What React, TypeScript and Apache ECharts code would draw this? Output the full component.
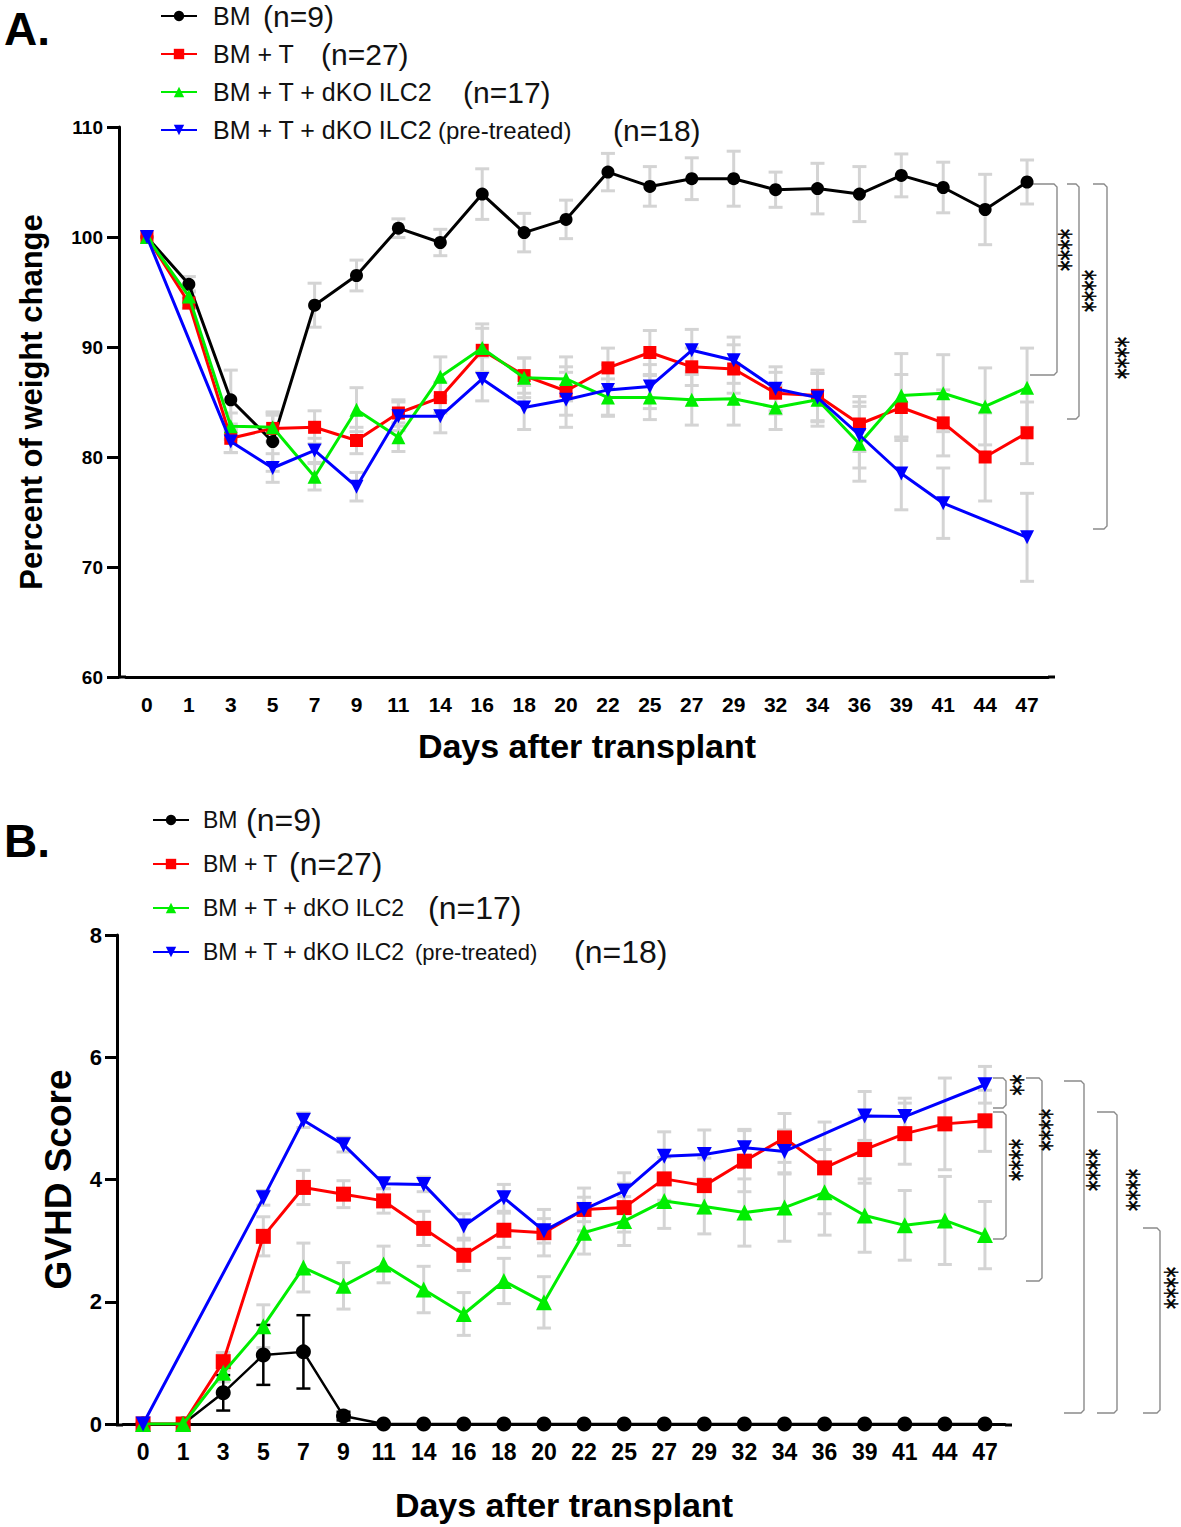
import React, { useEffect, useRef } from "react";
import * as echarts from "echarts";

const FONT = '"Liberation Sans", Arial, Helvetica, sans-serif';
const NARROW = '"Liberation Sans Narrow", "Liberation Sans", Arial, sans-serif';
const STARFONT = '"DejaVu Sans", sans-serif';

const days = ["0", "1", "3", "5", "7", "9", "11", "14", "16", "18", "20", "22", "25", "27", "29", "32", "34", "36", "39", "41", "44", "47"];

const groupNames = ["BM", "BM + T", "BM + T + dKO ILC2", "BM + T + dKO ILC2 (pre-treated)"];
const groupN = ["(n=9)", "(n=27)", "(n=17)", "(n=18)"];
const groupColors = ["#000000", "#ff0000", "#00ee00", "#0000ff"];

// A. Percent of weight change (mean, SEM)
const weightBM = [100, 95.7, 85.2, 81.4, 93.8, 96.5, 100.8, 99.5, 103.9, 100.4, 101.6, 105.9, 104.6, 105.3, 105.3, 104.3, 104.4, 103.9, 105.6, 104.5, 102.5, 105.0];
const weightBMsem = [0, 0.7, 2.7, 2.7, 2.0, 1.4, 0.85, 1.2, 2.3, 1.75, 1.75, 1.7, 1.8, 1.9, 2.5, 1.6, 2.3, 2.5, 1.95, 2.3, 3.2, 2.0];
const weightT = [100, 94.0, 81.7, 82.6, 82.7, 81.5, 84.0, 85.4, 89.7, 87.4, 86.0, 88.1, 89.5, 88.2, 88.0, 85.8, 85.6, 83.0, 84.5, 83.1, 80.0, 82.2];
const weightTsem = [0, 0.5, 1.3, 1.2, 1.5, 1.2, 1.2, 1.4, 2.0, 1.6, 2.2, 1.8, 2.0, 1.7, 2.2, 1.9, 2.3, 2.5, 3.0, 3.0, 4.0, 2.8];
const weightD = [100, 94.6, 82.8, 82.7, 78.2, 84.3, 81.8, 87.3, 89.9, 87.2, 87.1, 85.4, 85.4, 85.2, 85.3, 84.5, 85.2, 81.2, 85.6, 85.8, 84.6, 86.3];
const weightDsem = [0, 0.5, 1.2, 1.3, 1.2, 2.0, 1.3, 1.8, 2.2, 1.8, 2.0, 1.7, 2.0, 2.3, 2.4, 2.0, 2.4, 3.4, 3.8, 3.5, 3.5, 3.6];
const weightP = [100, null, 81.4, 79.0, 80.6, 77.3, 83.7, 83.7, 87.1, 84.5, 85.2, 86.1, 86.4, 89.7, 88.8, 86.2, 85.4, 82.0, 78.5, 75.8, null, 72.7];
const weightPsem = [0, null, 1.0, 1.3, 1.1, 1.3, 1.3, 1.5, 2.0, 2.0, 2.5, 2.3, 2.0, 1.9, 2.1, 2.0, 2.2, 3.0, 3.3, 3.2, null, 4.0];

// B. GVHD score (mean, SEM)
const gvhdBM = [0, 0, 0.51, 1.13, 1.18, 0.13, 0, 0, 0, 0, 0, 0, 0, 0, 0, 0, 0, 0, 0, 0, 0, 0];
const gvhdBMsem = [0, 0, 0.29, 0.49, 0.6, 0.07, 0, 0, 0, 0, 0, 0, 0, 0, 0, 0, 0, 0, 0, 0, 0, 0];
const gvhdT = [0, 0, 1.02, 3.07, 3.87, 3.76, 3.65, 3.20, 2.76, 3.17, 3.13, 3.51, 3.54, 4.01, 3.90, 4.30, 4.68, 4.19, 4.49, 4.75, 4.91, 4.96];
const gvhdTsem = [0, 0, 0.15, 0.32, 0.28, 0.22, 0.2, 0.28, 0.25, 0.28, 0.38, 0.35, 0.4, 0.35, 0.45, 0.5, 0.4, 0.75, 0.55, 0.5, 0.75, 0.5];
const gvhdD = [0, 0, 0.84, 1.60, 2.56, 2.26, 2.61, 2.20, 1.80, 2.34, 1.99, 3.13, 3.32, 3.65, 3.56, 3.46, 3.54, 3.79, 3.41, 3.25, 3.33, 3.09];
const gvhdDsem = [0, 0, 0.15, 0.35, 0.4, 0.38, 0.3, 0.38, 0.35, 0.37, 0.42, 0.35, 0.4, 0.45, 0.45, 0.55, 0.55, 0.7, 0.6, 0.57, 0.72, 0.55];
const gvhdP = [0, null, null, 3.70, 4.97, 4.57, 3.93, 3.92, 3.24, 3.70, 3.16, 3.51, 3.81, 4.38, 4.41, 4.52, 4.46, null, 5.04, 5.03, null, 5.55];
const gvhdPsem = [0, null, null, 0.12, 0.12, 0.12, 0.08, 0.12, 0.2, 0.22, 0.2, 0.2, 0.3, 0.4, 0.4, 0.3, 0.35, null, 0.4, 0.3, null, 0.3];

const weightTicks = [60, 70, 80, 90, 100, 110];
const gvhdTicks = [0, 2, 4, 6, 8];

type Num = number | null;

function errorSeries(id: string, vals: Num[], sems: Num[], color: string, width: number, cap: number) {
  const data: number[][] = [];
  vals.forEach((v, i) => {
    const s = sems[i];
    if (v == null || s == null || s === 0) return;
    data.push([i, v - s, v + s]);
  });
  return {
    type: "custom",
    id,
    silent: true,
    z: 1,
    encode: { x: 0, y: [1, 2] },
    renderItem: (_p: any, api: any) => {
      const i = api.value(0);
      const lo = api.coord([i, api.value(1)]);
      const hi = api.coord([i, api.value(2)]);
      const st = { stroke: color, lineWidth: width };
      return {
        type: "group",
        children: [
          { type: "line", shape: { x1: lo[0], y1: lo[1], x2: hi[0], y2: hi[1] }, style: st },
          { type: "line", shape: { x1: lo[0] - cap, y1: lo[1], x2: lo[0] + cap, y2: lo[1] }, style: st },
          { type: "line", shape: { x1: hi[0] - cap, y1: hi[1], x2: hi[0] + cap, y2: hi[1] }, style: st },
        ],
      };
    },
    data,
  };
}

const symbols = ["circle", "rect", "triangle", "triangle"];
const rotations = [0, 0, 0, 180];

function lineSeries(idx: number, vals: Num[], sizes: number[], width: number) {
  return {
    type: "line",
    name: groupNames[idx],
    data: vals,
    connectNulls: true,
    symbol: symbols[idx],
    symbolRotate: rotations[idx],
    symbolSize: sizes[idx],
    showSymbol: true,
    z: 3 + idx,
    itemStyle: { color: groupColors[idx], opacity: 1 },
    lineStyle: { color: groupColors[idx], width },
  };
}

function bracket(x1: number, x2: number, y1: number, y2: number) {
  return {
    type: "polyline",
    shape: { points: [[x1, y1], [x2 - 3, y1], [x2, y1 + 3], [x2, y2 - 3], [x2 - 3, y2], [x1, y2]] },
    style: { stroke: "#8a8a8a", lineWidth: 1.4, fill: null },
    silent: true,
  };
}

// significance stars, written vertically, centred near (x, y)
function stars(x: number, y: number, t: string) {
  return {
    type: "text",
    x: x - 6,
    y,
    rotation: -Math.PI / 2,
    scaleX: 0.7,
    scaleY: 1,
    style: { text: t, font: `30px ${STARFONT}`, fill: "#000", align: "center", verticalAlign: "middle", stroke: "#000", lineWidth: 0.6 },
    silent: true,
  };
}

function legendOpt(top: number, left: number, gap: number, nameFont: number, nFont: number, ptFont: number, padL: number, widths: number[], ptW: number) {
  const rich: any = {
    pt: { fontSize: ptFont, fontFamily: FONT, color: "#111", width: ptW },
    n: { fontSize: nFont, fontFamily: NARROW, color: "#111" },
  };
  widths.forEach((w, i) => {
    rich["nm" + i] = { fontSize: nameFont, fontFamily: FONT, color: "#111", width: w, padding: [0, 0, 0, padL] };
  });
  return {
    orient: "vertical",
    left,
    top,
    padding: 0,
    itemGap: gap,
    itemWidth: 36,
    itemHeight: 13,
    selectedMode: false,
    data: groupNames,
    textStyle: { rich },
    formatter: (name: string) => {
      const i = groupNames.indexOf(name);
      if (i === 3) return `{nm3|BM + T + dKO ILC2 }{pt|(pre-treated)}{n|${groupN[3]}}`;
      return `{nm${i}|${name}}{n|${groupN[i]}}`;
    },
  };
}

function optionA() {
  const sizes = [13, 13, 14, 14];
  return {
    animation: false,
    backgroundColor: "#ffffff",
    textStyle: { fontFamily: FONT },
    legend: legendOpt(1, 160, 8, 25, 30, 24, 11, [50, 108, 250, 225], 175),
    grid: { left: 126, top: 127, width: 922, height: 550, containLabel: false },
    xAxis: {
      type: "category",
      data: days,
      boundaryGap: true,
      name: "Days after transplant",
      nameLocation: "middle",
      nameGap: 52,
      nameTextStyle: { fontSize: 34, fontWeight: "bold", color: "#000", fontFamily: FONT },
      axisLine: { lineStyle: { color: "#000", width: 3 } },
      axisTick: { alignWithLabel: true, length: 10, lineStyle: { color: "#000", width: 3 } },
      axisLabel: { interval: 0, margin: 17, fontSize: 21, fontWeight: "bold", color: "#000", fontFamily: FONT },
    },
    yAxis: {
      type: "value",
      min: weightTicks[0],
      max: weightTicks[weightTicks.length - 1],
      interval: 10,
      offset: 7,
      name: "Percent of weight change",
      nameLocation: "middle",
      nameGap: 72,
      nameTextStyle: { fontSize: 31, fontWeight: "bold", color: "#000", fontFamily: FONT },
      splitLine: { show: false },
      axisLine: { show: true, lineStyle: { color: "#000", width: 3 } },
      axisTick: { show: true, length: 12, lineStyle: { color: "#000", width: 3 } },
      axisLabel: { margin: 16, fontSize: 19, fontWeight: "bold", color: "#000", fontFamily: FONT },
    },
    graphic: [
      { type: "text", x: 4, y: 6, style: { text: "A.", font: `bold 46px ${FONT}`, fill: "#000" } },
      { type: "line", shape: { x1: 118, y1: 677, x2: 126, y2: 677 }, style: { stroke: "#000", lineWidth: 3 } },
      { type: "line", shape: { x1: 1048, y1: 677, x2: 1055, y2: 677 }, style: { stroke: "#000", lineWidth: 3 } },
      bracket(1030, 1057, 184, 375),
      bracket(1067, 1079, 184, 419),
      bracket(1093, 1107, 184, 529),
      stars(1066, 250, "****"),
      stars(1090, 291, "****"),
      stars(1123, 358, "****"),
    ],
    series: [
      errorSeries("eA0", weightBM, weightBMsem, "#d4d4d4", 3, 7),
      errorSeries("eA1", weightT, weightTsem, "#d4d4d4", 3, 7),
      errorSeries("eA2", weightD, weightDsem, "#d4d4d4", 3, 7),
      errorSeries("eA3", weightP, weightPsem, "#d4d4d4", 3, 7),
      lineSeries(0, weightBM, sizes, 3),
      lineSeries(1, weightT, sizes, 3),
      lineSeries(2, weightD, sizes, 3),
      lineSeries(3, weightP, sizes, 3),
    ],
  };
}

function optionB() {
  const sizes = [15, 15, 16, 15];
  return {
    animation: false,
    backgroundColor: "#ffffff",
    textStyle: { fontFamily: FONT },
    legend: legendOpt(34, 152, 12, 23, 32, 22, 9, [43, 86, 225, 212], 159),
    grid: { left: 123, top: 165, width: 882, height: 490, containLabel: false },
    xAxis: {
      type: "category",
      data: days,
      boundaryGap: true,
      name: "Days after transplant",
      nameLocation: "middle",
      nameGap: 64,
      nameTextStyle: { fontSize: 34, fontWeight: "bold", color: "#000", fontFamily: FONT },
      axisLine: { lineStyle: { color: "#000", width: 3 } },
      axisTick: { alignWithLabel: true, length: 10, lineStyle: { color: "#000", width: 3 } },
      axisLabel: { interval: 0, margin: 16, fontSize: 23, fontWeight: "bold", color: "#000", fontFamily: FONT },
    },
    yAxis: {
      type: "value",
      min: gvhdTicks[0],
      max: gvhdTicks[gvhdTicks.length - 1],
      interval: 2,
      offset: 6,
      name: "GVHD Score",
      nameLocation: "middle",
      nameGap: 40,
      nameTextStyle: { fontSize: 37, fontWeight: "bold", color: "#000", fontFamily: FONT },
      splitLine: { show: false },
      axisLine: { show: true, lineStyle: { color: "#000", width: 3 } },
      axisTick: { show: true, length: 12, lineStyle: { color: "#000", width: 3 } },
      axisLabel: { margin: 15, fontSize: 22, fontWeight: "bold", color: "#000", fontFamily: FONT },
    },
    graphic: [
      { type: "text", x: 4, y: 48, style: { text: "B.", font: `bold 46px ${FONT}`, fill: "#000" } },
      { type: "line", shape: { x1: 116, y1: 655, x2: 123, y2: 655 }, style: { stroke: "#000", lineWidth: 3 } },
      { type: "line", shape: { x1: 1005, y1: 655, x2: 1012, y2: 655 }, style: { stroke: "#000", lineWidth: 3 } },
      bracket(993, 1006, 308, 338),
      bracket(993, 1006, 342, 469),
      bracket(1026, 1042, 308, 511),
      bracket(1064, 1084, 311, 643),
      bracket(1097, 1117, 342, 643),
      bracket(1143, 1160, 458, 643),
      stars(1018, 315, "**"),
      stars(1017, 390, "****"),
      stars(1047, 360, "****"),
      stars(1094, 400, "****"),
      stars(1134, 420, "****"),
      stars(1172, 518, "****"),
    ],
    series: [
      errorSeries("eB1", gvhdT, gvhdTsem, "#d4d4d4", 3, 7),
      errorSeries("eB2", gvhdD, gvhdDsem, "#d4d4d4", 3, 7),
      errorSeries("eB3", gvhdP, gvhdPsem, "#d4d4d4", 3, 7),
      errorSeries("eB0", gvhdBM, gvhdBMsem, "#000000", 2.5, 7),
      lineSeries(0, gvhdBM, sizes, 2.5),
      lineSeries(1, gvhdT, sizes, 3),
      lineSeries(2, gvhdD, sizes, 3),
      lineSeries(3, gvhdP, sizes, 3),
    ],
  };
}

export default function App() {
  const refA = useRef<HTMLDivElement>(null);
  const refB = useRef<HTMLDivElement>(null);
  useEffect(() => {
    const a = echarts.init(refA.current!, null, { renderer: "svg" });
    const b = echarts.init(refB.current!, null, { renderer: "svg" });
    a.setOption(optionA() as any);
    b.setOption(optionB() as any);
    return () => {
      a.dispose();
      b.dispose();
    };
  }, []);
  return (
    <div style={{ position: "absolute", left: 0, top: 0, width: 1181, height: 1527, background: "#fff", overflow: "hidden" }}>
      <div ref={refA} style={{ position: "absolute", left: 0, top: 0, width: 1181, height: 770 }} />
      <div ref={refB} style={{ position: "absolute", left: 0, top: 770, width: 1181, height: 757 }} />
    </div>
  );
}
